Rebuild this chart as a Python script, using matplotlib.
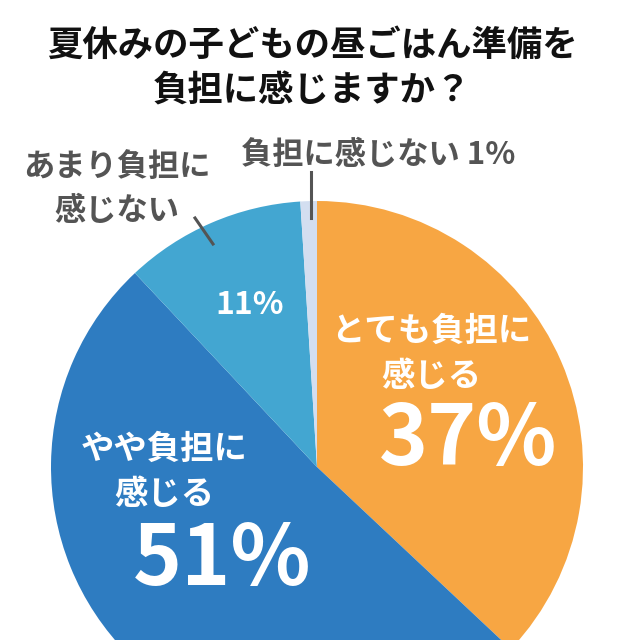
import matplotlib
matplotlib.use("Agg")
import matplotlib.pyplot as plt

plt.rcParams['font.family'] = ['Noto Sans CJK JP', 'DejaVu Sans']

# data
categories = ['とても負担に\n感じる', 'やや負担に\n感じる', 'あまり負担に\n感じない', '負担に感じない']
shares = [37, 51, 11, 1]
colors = ['#F7A643', '#2E7CC1', '#43A6D1', '#D3DEF0']
title = '夏休みの子どもの昼ごはん準備を\n負担に感じますか？'

W = H = 640
fig = plt.figure(figsize=(6.4, 6.4), dpi=100)
ax = fig.add_axes([0, 0, 1, 1])

def Y(y):
    # image-style y (from top) to axis y
    return H - y

cx, cy, r = 317, Y(467), 266
ax.pie(shares, colors=colors, startangle=90, counterclock=False,
       center=(cx, cy), radius=r, frame=True,
       wedgeprops=dict(linewidth=0))
ax.set_xlim(0, W)
ax.set_ylim(0, H)
ax.set_aspect('equal')
ax.axis('off')

# title
ax.text(312, Y(68), title, ha='center', va='center', fontsize=25.5,
        fontweight='bold', color='#111111', linespacing=1.4)

gray = '#545454'
# outside labels
ax.text(117, Y(189), categories[2], ha='center', va='center', fontsize=22.5,
        fontweight='bold', color=gray, linespacing=1.45)
ax.plot([195, 213], [Y(218), Y(244)], color=gray, lw=2.2)

ax.text(378, Y(155), f'{categories[3]} {shares[3]}%', ha='center', va='center',
        fontsize=22.5, fontweight='bold', color=gray)
ax.plot([311, 311], [Y(172), Y(218)], color=gray, lw=2.2)

# inside labels
ax.text(250, Y(305), f'{shares[2]}%', ha='center', va='center', fontsize=23,
        fontweight='bold', color='white')

ax.text(431, Y(354), categories[0], ha='center', va='center', fontsize=24,
        fontweight='bold', color='white', linespacing=1.45)
ax.text(468, Y(440), f'{shares[0]}%', ha='center', va='center', fontsize=60,
        fontweight='bold', color='white')

ax.text(164, Y(472), categories[1], ha='center', va='center', fontsize=24,
        fontweight='bold', color='white', linespacing=1.45)
ax.text(222, Y(560), f'{shares[1]}%', ha='center', va='center', fontsize=60,
        fontweight='bold', color='white')

fig.savefig('out.png', dpi=100, facecolor='white')
